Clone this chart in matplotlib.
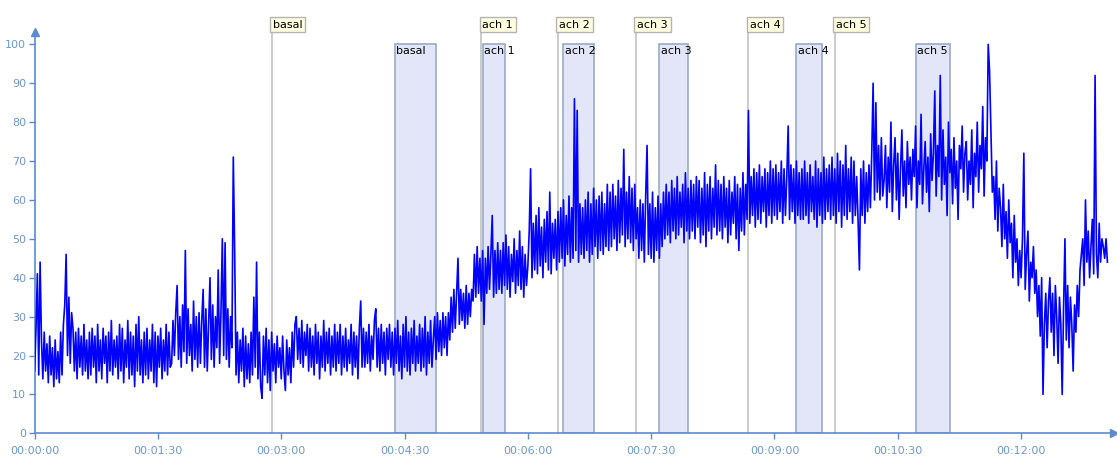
import numpy as np
import matplotlib.pyplot as plt
from matplotlib.patches import Rectangle

step = 1
signal = [
    16, 27, 41, 15, 44, 24, 14, 26, 16, 23, 13, 25, 15, 22, 12, 24, 14, 21, 13, 26,
    15, 28, 33, 46, 20, 35, 18, 31, 27, 16, 26, 14, 27, 17, 25, 15, 28, 16, 24, 14,
    26, 15, 27, 17, 25, 13, 28, 16, 24, 14, 27, 18, 25, 13, 26, 16, 29, 15, 24, 17,
    25, 14, 28, 16, 27, 13, 24, 17, 29, 14, 26, 15, 25, 12, 28, 16, 30, 15, 24, 13,
    26, 15, 27, 14, 24, 16, 28, 13, 26, 12, 25, 17, 27, 14, 24, 16, 28, 15, 26, 17,
    18, 29, 20, 31, 38, 19, 30, 17, 33, 21, 47, 18, 32, 20, 28, 16, 34, 19, 30, 17,
    31, 18, 29, 37, 17, 32, 16, 28, 40, 19, 33, 17, 30, 22, 42, 18, 31, 50, 20, 49,
    19, 32, 17, 30, 22, 71, 47, 15, 26, 13, 24, 16, 27, 12, 25, 14, 23, 13, 26, 15,
    35, 17, 44, 14, 26, 12, 9, 25, 15, 27, 13, 24, 11, 26, 16, 23, 13, 25, 17, 22,
    14, 25, 16, 11, 24, 15, 22, 13, 26, 17, 28, 30, 19, 27, 18, 29, 17, 26, 20, 28,
    16, 27, 17, 25, 15, 28, 18, 26, 14, 25, 17, 29, 16, 26, 18, 27, 15, 25, 17, 28,
    16, 26, 18, 28, 15, 25, 17, 27, 16, 24, 18, 28, 15, 26, 17, 25, 14, 27, 34, 17,
    27, 17, 26, 18, 28, 16, 25, 19, 29, 32, 17, 27, 16, 28, 18, 26, 15, 27, 19, 28,
    17, 26, 15, 27, 18, 29, 16, 25, 14, 28, 17, 30, 16, 26, 15, 27, 18, 29, 16, 25,
    18, 28, 16, 27, 17, 30, 15, 26, 18, 29, 17, 24, 30, 19, 31, 21, 29, 20, 31, 22,
    30, 20, 31, 24, 35, 26, 37, 27, 36, 45, 28, 37, 29, 36, 27, 38, 28, 36, 30, 37,
    34, 46, 35, 48, 36, 45, 34, 47, 28, 45, 36, 48, 37, 46, 56, 35, 47, 36, 49, 37,
    47, 36, 49, 38, 51, 37, 48, 35, 46, 39, 50, 36, 47, 38, 52, 37, 48, 35, 46, 38,
    43, 52, 68, 40, 54, 42, 56, 41, 58, 43, 53, 40, 55, 44, 57, 42, 62, 41, 54, 45,
    55, 42, 57, 44, 58, 45, 60, 43, 56, 46, 61, 44, 58, 45, 86, 47, 83, 44, 59, 46,
    58, 45, 60, 47, 62, 44, 59, 46, 63, 48, 60, 45, 61, 47, 62, 46, 59, 48, 64, 47,
    62, 48, 64, 50, 61, 47, 65, 49, 63, 51, 73, 48, 62, 50, 66, 49, 63, 47, 64, 50,
    58, 45, 60, 47, 59, 44, 61, 74, 46, 59, 45, 62, 44, 58, 47, 61, 45, 59, 48, 62,
    50, 64, 51, 62, 49, 65, 52, 63, 50, 66, 51, 62, 53, 64, 49, 67, 52, 63, 50, 65,
    52, 64, 50, 66, 53, 65, 49, 63, 51, 67, 48, 64, 52, 66, 50, 63, 53, 69, 51, 65,
    52, 64, 50, 66, 53, 63, 49, 65, 51, 62, 54, 66, 50, 64, 47, 63, 52, 67, 51, 64,
    55, 83, 54, 66, 56, 68, 53, 67, 55, 69, 54, 66, 57, 68, 53, 67, 56, 70, 54, 68,
    56, 69, 55, 67, 57, 70, 54, 68, 56, 66, 79, 55, 69, 57, 68, 54, 70, 56, 67, 55,
    68, 55, 70, 56, 67, 54, 69, 57, 66, 55, 70, 53, 68, 56, 67, 54, 71, 55, 68, 57,
    69, 55, 71, 56, 68, 54, 72, 57, 70, 53, 69, 56, 74, 55, 68, 57, 71, 54, 70, 56,
    66, 55, 42, 68, 56, 70, 54, 67, 57, 69, 58, 72, 90, 60, 85, 62, 74, 60, 76, 61,
    65, 74, 58, 71, 62, 80, 57, 69, 76, 60, 72, 55, 68, 78, 61, 70, 58, 75, 64, 71,
    60, 73, 66, 79, 58, 70, 64, 82, 59, 68, 75, 62, 71, 57, 77, 65, 72, 88, 61, 74,
    66, 92, 60, 78, 64, 71, 56, 80, 67, 73, 59, 76, 63, 70, 55, 74, 68, 79, 62, 72,
    75, 60, 70, 64, 78, 58, 72, 66, 80, 62, 74, 68, 84, 61, 76, 70, 100, 93, 78, 62,
    66, 55, 70, 52, 63, 58, 48, 64, 50, 57, 45, 60, 49, 54, 40, 56, 44, 50, 38, 47,
    40, 50, 72, 37, 46, 52, 34, 44, 40, 48, 36, 42, 30, 38, 25, 40, 10, 28, 36, 22,
    34, 40, 26, 36, 20, 38, 30, 18, 35, 28, 10, 32, 50, 24, 38, 22, 35, 28, 16, 33,
    26, 38, 30, 42, 46, 50, 38, 60, 44, 52, 40, 48, 55, 41, 92, 46, 40, 54, 44, 50,
    48, 45, 50, 44,
]

# event markers (seconds) and analysis windows (start, end in seconds)
marker_names = ['basal', 'ach 1', 'ach 2', 'ach 3', 'ach 4', 'ach 5']
marker_times = [173, 326, 382, 439, 521, 584]
window_starts = [263, 327, 386, 456, 556, 643]
window_ends = [293, 343, 408, 477, 575, 668]

tick_secs = [0, 90, 180, 270, 360, 450, 540, 630, 720]

axis_col = '#5b8bd0'
label_col = '#6e98cc'

t = np.arange(len(signal)) * step

fig = plt.figure(figsize=(11.17, 4.59), dpi=100)
ax = fig.add_axes([0.031, 0.056, 0.969, 0.944])
ax.set_xlim(0, 790)
ax.set_ylim(0, 111.4)

# shaded analysis windows
for name, a, b in zip(marker_names, window_starts, window_ends):
    ax.add_patch(Rectangle((a, 0), b - a, 100, facecolor='#e3e6f8',
                           edgecolor='#9aabc9', lw=1.2, zorder=1))
    ax.text(a + 1, 99.6, name, fontsize=8, color='black', va='top', ha='left', zorder=4)

# event lines with boxed labels
for name, m in zip(marker_names, marker_times):
    ax.plot([m, m], [0, 104], color='#c2c2c2', lw=1.2, zorder=2, clip_on=False)
    ax.text(m + 0.8, 105.1, name, fontsize=8, color='black', va='center', ha='left',
            zorder=5, bbox=dict(boxstyle='square,pad=0.25', fc='#ffffe0', ec='#b4b4b4', lw=1))

ax.plot(t, signal, color='#0000ff', lw=1.2, zorder=3)

# axes styling
for s in ['top', 'right']:
    ax.spines[s].set_visible(False)
ax.spines['left'].set_color(axis_col)
ax.spines['bottom'].set_color(axis_col)
ax.spines['left'].set_linewidth(1.2)
ax.spines['bottom'].set_linewidth(1.2)
ax.spines['left'].set_bounds(0, 102)
ax.spines['bottom'].set_bounds(0, 785)
ax.plot([0], [103.2], marker='^', ms=6, color=axis_col, clip_on=False, zorder=6)
ax.plot([787.5], [0], marker='>', ms=6, color=axis_col, clip_on=False, zorder=6)

ax.set_yticks(range(0, 101, 10))
ax.set_xticks(tick_secs)
ax.set_xticklabels(['00:%02d:%02d' % (s // 60, s % 60) for s in tick_secs])
ax.tick_params(colors=axis_col, labelcolor=label_col, labelsize=8, length=4, width=1)
ax.tick_params(axis='x', pad=5)
ax.tick_params(axis='y', pad=2)

fig.savefig('out.png', dpi=100)
